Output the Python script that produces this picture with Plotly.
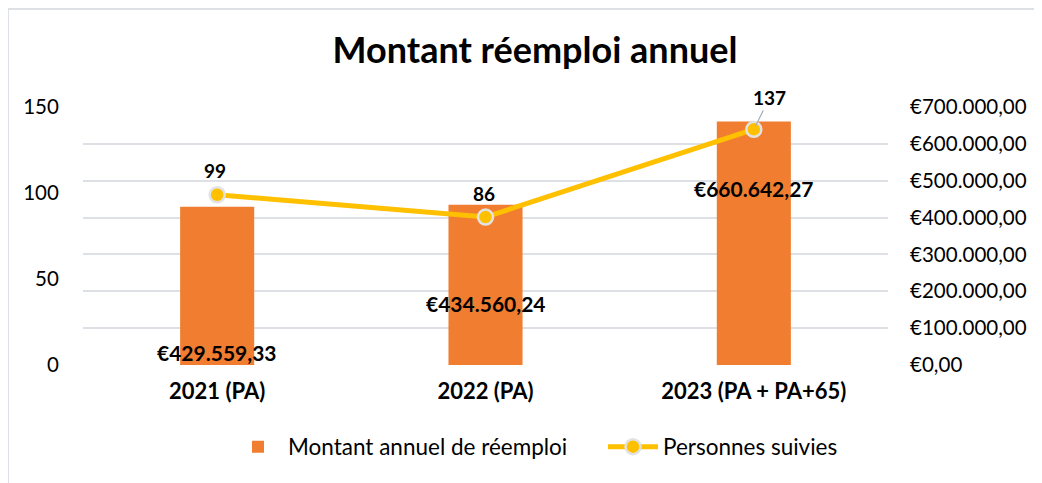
import plotly.graph_objects as go

# data
categories = ["2021 (PA)", "2022 (PA)", "2023 (PA + PA+65)"]
montant = [429559.33, 434560.24, 660642.27]
personnes = [99, 86, 137]
# where the amount labels sit on the amount axis (moved by hand in the original)
montant_label_y = [35000, 168000, 480000]

FONT = "Lato"


def euro(v):
    s = f"{v:,.2f}"
    return "€" + s.replace(",", "X").replace(".", ",").replace("X", ".")


fig = go.Figure()

# bars on the primary axis (drawn on the right) so the line sits on top
fig.add_trace(
    go.Bar(
        x=categories,
        y=montant,
        name="Montant annuel de réemploi",
        marker=dict(color="#F07D30", line=dict(width=0)),
        yaxis="y",
    )
)
fig.add_trace(
    go.Scatter(
        x=categories,
        y=personnes,
        name="Personnes suivies",
        mode="lines+markers",
        line=dict(color="#FFC000", width=5),
        marker=dict(size=15, color="#FFC000", line=dict(color="#E2E2E2", width=2.5)),
        yaxis="y2",
    )
)

annotations = []
for cat, v, ly in zip(categories, montant, montant_label_y):
    annotations.append(
        dict(
            x=cat, y=ly, xref="x", yref="y", text="<b>" + euro(v) + "</b>",
            showarrow=False, font=dict(family=FONT, size=21, color="#000000"),
        )
    )
for i, (cat, p) in enumerate(zip(categories, personnes)):
    if i == 2:
        annotations.append(
            dict(
                x=cat, y=p, xref="x", yref="y2", text="<b>" + str(p) + "</b>",
                showarrow=True, arrowhead=0, arrowwidth=1.2, arrowcolor="#A6B0BF",
                ax=16, ay=-32, standoff=4, font=dict(family=FONT, size=19, color="#000000"),
            )
        )
    else:
        annotations.append(
            dict(
                x=cat, y=p, xref="x", yref="y2", text="<b>" + str(p) + "</b>",
                showarrow=False, yshift=24, xshift=-2,
                font=dict(family=FONT, size=19, color="#000000"),
            )
        )

# the page body adds an 8px offset, so plot area 83..888 x 107..365 on screen
fig.update_layout(
    width=1042,
    height=483,
    margin=dict(l=75, r=162, t=99, b=126, autoexpand=False),
    paper_bgcolor="white",
    plot_bgcolor="white",
    separators=",.",
    font=dict(family=FONT, size=20, color="#000000"),
    title=dict(
        text="<b>Montant réemploi annuel</b>",
        x=527 / 1042, xref="container", xanchor="center",
        y=1 - 42 / 483, yref="container", yanchor="middle",
        font=dict(family=FONT, size=36, color="#000000"),
    ),
    bargap=0.724,
    xaxis=dict(
        showgrid=False, showline=False, zeroline=False, automargin=False,
        ticks="outside", ticklen=7, tickcolor="rgba(0,0,0,0)",
        tickfont=dict(family=FONT, size=22, color="#000000", weight="bold"),
    ),
    yaxis=dict(
        range=[0, 700000], dtick=100000, side="right",
        showgrid=True, gridcolor="#DDE1E6", gridwidth=1.5, zeroline=False, showline=False,
        tickprefix="€", tickformat=",.2f", automargin=False,
        ticks="outside", ticklen=17, tickcolor="rgba(0,0,0,0)",
        tickfont=dict(family=FONT, size=20.5, color="#000000"),
    ),
    yaxis2=dict(
        range=[0, 150], dtick=50, overlaying="y", side="left",
        showgrid=False, zeroline=False, showline=False, automargin=False,
        ticks="outside", ticklen=19, tickcolor="rgba(0,0,0,0)",
        tickfont=dict(family=FONT, size=20.5, color="#000000"),
    ),
    legend=dict(
        orientation="h", xref="container", yref="container",
        x=220 / 1042, xanchor="left", y=1 - 439 / 483, yanchor="middle",
        font=dict(family=FONT, size=22.5, color="#000000"),
        itemwidth=50, entrywidth=310,
        traceorder="normal",
    ),
    annotations=annotations,
    shapes=[
        dict(
            type="rect", xref="paper", yref="paper",
            x0=(0 - 75) / 805, x1=(1060 - 75) / 805,
            y0=(357 - 500) / 258, y1=(357 - 1) / 258,
            line=dict(color="#DDE1E6", width=2), fillcolor="rgba(0,0,0,0)",
            layer="below",
        )
    ],
)

fig.write_html("out.html")
